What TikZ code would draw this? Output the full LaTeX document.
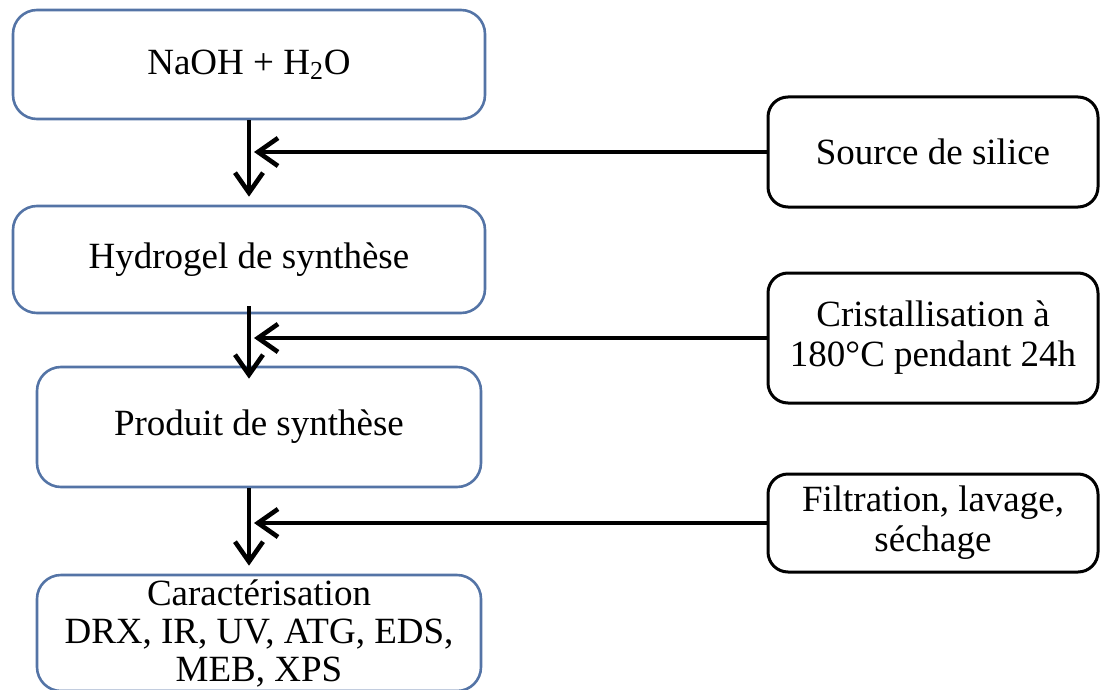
\documentclass[tikz,border=0pt]{standalone}
\usepackage{fontspec}
\setmainfont{Liberation Serif}
\usetikzlibrary{arrows.meta}
\definecolor{boxblue}{RGB}{84,116,166}

\begin{document}
\begin{tikzpicture}[x=0.5pt, y=-0.5pt,
  stepl/.style={draw=boxblue, line width=1.3pt, rounded corners=12pt, fill=white,
    align=center, inner sep=0pt, font=\fontsize{18.5}{19}\selectfont},
  stepr/.style={draw=black, line width=1.5pt, rounded corners=10pt, fill=white,
    align=center, inner sep=0pt, minimum width=165pt, font=\fontsize{18.5}{20}\selectfont},
  flow/.style={line width=2.3pt, -{Straight Barb[length=10pt, width=14pt]}}]
\useasboundingbox (0,0) rectangle (1102,690);

\node[stepl, minimum width=236pt, minimum height=54.5pt] (naoh)    at (249,64.5)  {NaOH + H\textsubscript{2}O};
\node[stepl, minimum width=236pt, minimum height=53.5pt] (hydro)   at (249,259.5) {Hydrogel de synthèse};
\node[stepl, minimum width=222pt, minimum height=60pt]   (produit) at (259,427)   {Produit de synthèse};
\node[stepl, minimum width=222pt, minimum height=58pt]   (carac)   at (259,633)   {Caractérisation\\DRX, IR, UV, ATG, EDS,\\MEB, XPS};

\node[stepr, minimum height=55pt] (silice)  at (933,152) {Source de silice};
\node[stepr, minimum height=65pt] (cristal) at (933,338) {Cristallisation à\\180°C pendant 24h};
\node[stepr, minimum height=49pt] (filtr)   at (933,523) {Filtration, lavage,\\séchage};

\draw[flow, shorten >=4pt] (naoh.south) -- (hydro.north);
\draw[flow, shorten <=-4pt, shorten >=-6.5pt] (hydro.south) -- (hydro.south |- produit.north);
\draw[flow, shorten >=4pt] (produit.south -| hydro.south) -- (carac.north -| hydro.south);

\draw[flow, shorten >=2.5pt] (silice.west)  -- (silice.west -| naoh.south);
\draw[flow, shorten >=2.5pt] (cristal.west) -- (cristal.west -| hydro.south);
\draw[flow, shorten >=2.5pt] (filtr.west)   -- (filtr.west -| hydro.south);

\end{tikzpicture}
\end{document}
